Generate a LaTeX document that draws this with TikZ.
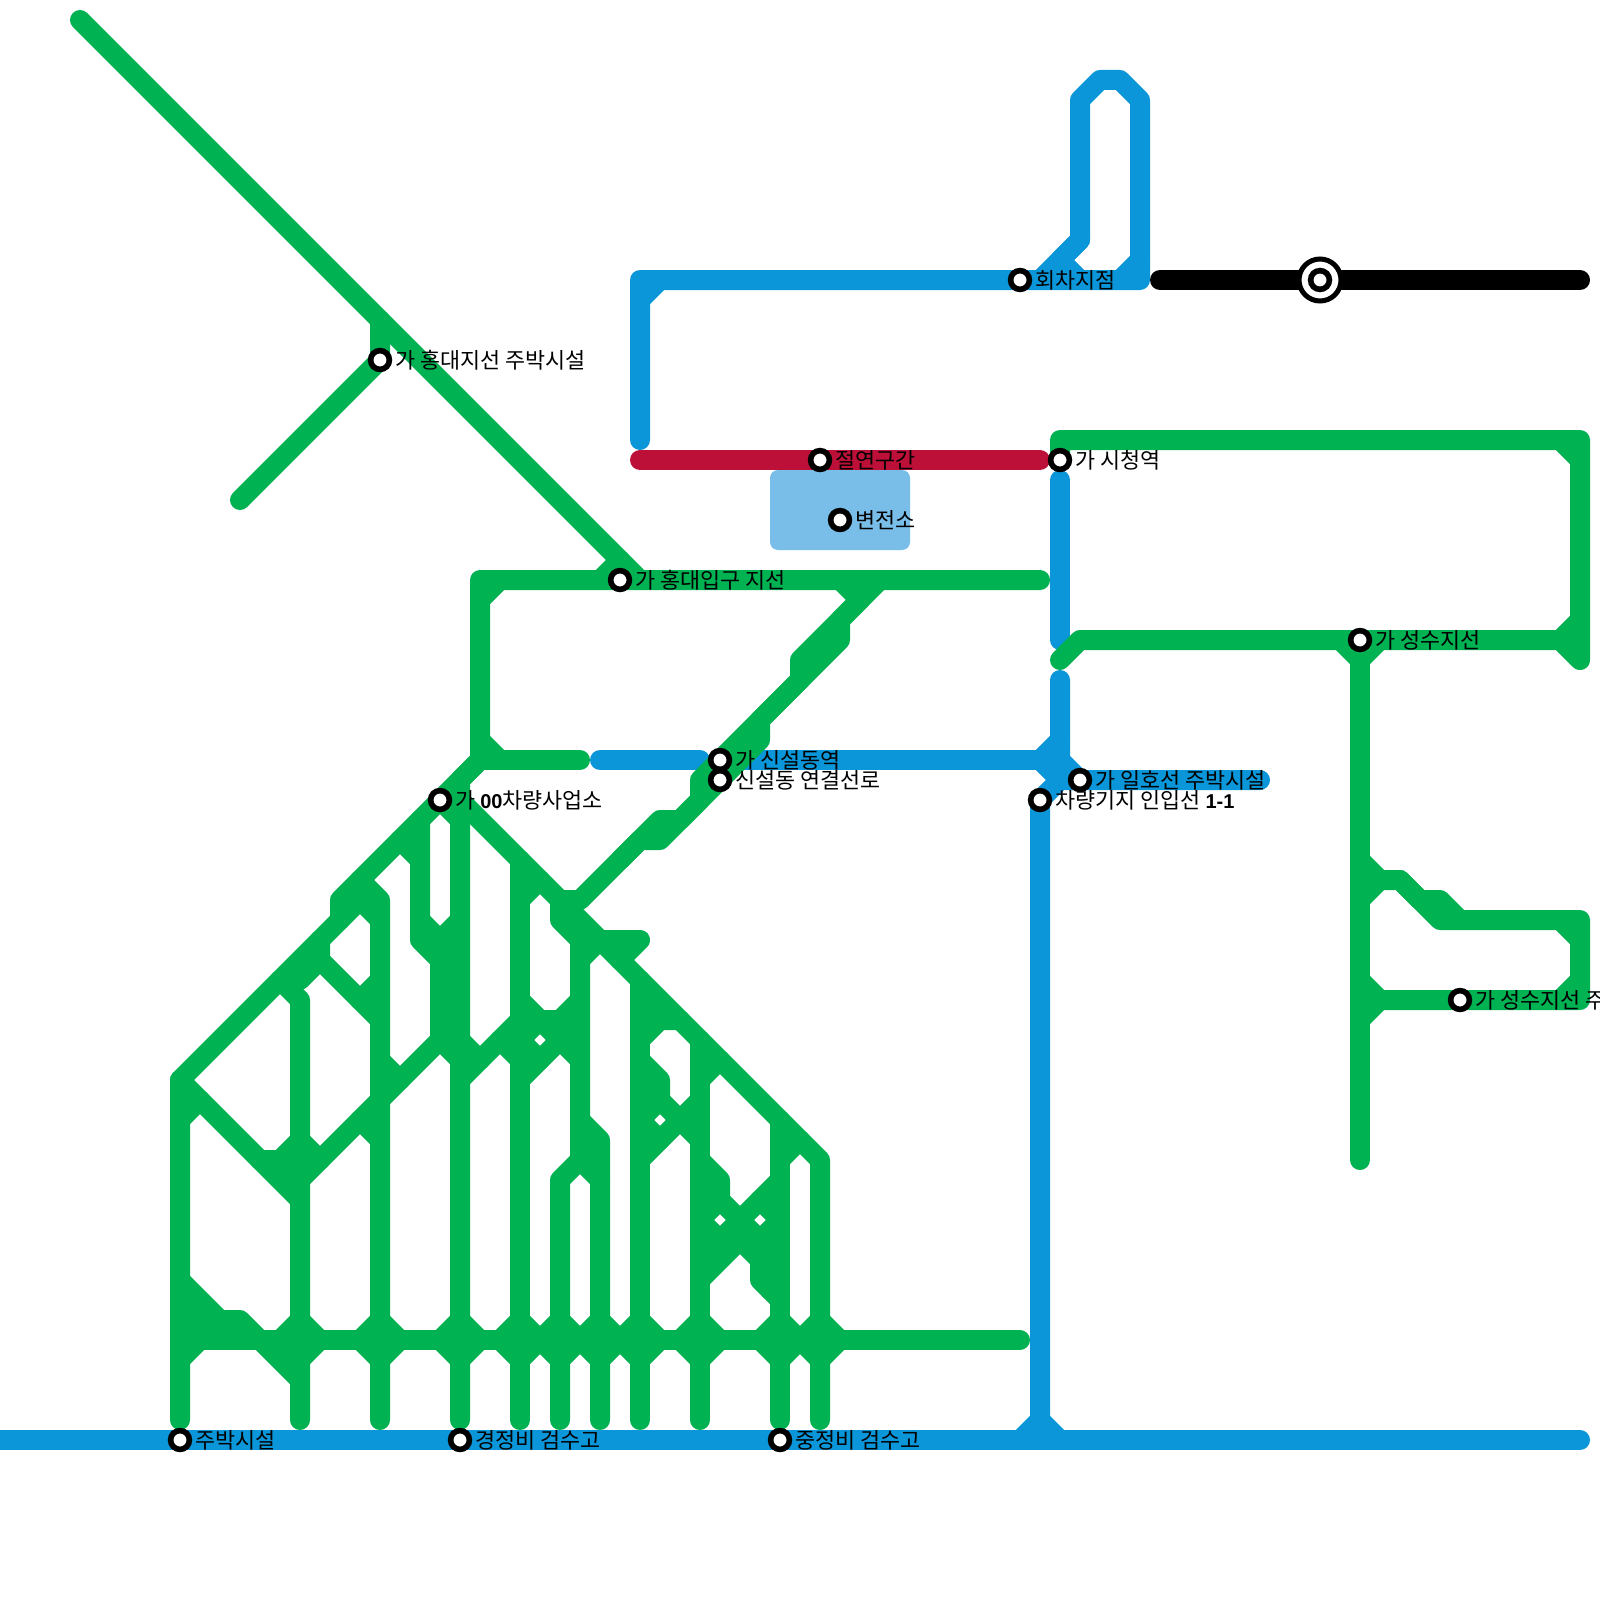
\documentclass[tikz,border=0pt]{standalone}
\usepackage{fontspec}
\setmainfont{Noto Sans CJK KR}
\newfontfamily\latinbold[BoldFont={Liberation Sans Bold}]{Liberation Sans}
\definecolor{grn}{HTML}{00B251}
\definecolor{blu}{HTML}{0A96D8}
\definecolor{rd}{HTML}{BD1038}
\definecolor{lblu}{HTML}{79BDE9}
\newcommand{\bnum}[1]{{\latinbold\bfseries\fontsize{10pt}{12pt}\selectfont #1}}
\tikzset{
  track/.style={line width=10pt,line cap=round,line join=round},
  grnline/.style={track,draw=grn},
  bluline/.style={track,draw=blu},
  stn/.style={circle,draw=black,fill=white,line width=2.8pt,minimum size=9.4pt,inner sep=0pt},
  lbl/.style={anchor=west,inner sep=0pt,font=\fontsize{10.9pt}{12pt}\selectfont,text=black},
}
\begin{document}
\begin{tikzpicture}[x=0.5pt,y=-0.5pt]
\useasboundingbox (0,0) rectangle (1600,1600);
% substation block
\fill[lblu,rounded corners=4pt] (770,470) rectangle (910,550);
% blue
\draw[bluline] (-20,1440) -- (1580,1440);
\draw[bluline] (1020,1440) -- (1040,1420) -- (1060,1440);
\draw[bluline] (1040,1420) -- (1040,800) -- (1060,780) -- (1260,780);
\draw[bluline] (1060,780) -- (1040,760) -- (1060,740) -- (1060,680);
\draw[bluline] (1060,740) -- (1060,760) -- (1080,780);
\draw[bluline] (740,760) -- (1040,760);
\draw[bluline] (600,760) -- (700,760);
\draw[bluline] (1060,480) -- (1060,640);
\draw[bluline] (640,440) -- (640,280) -- (1140,280) -- (1140,100) -- (1120,80) -- (1100,80) -- (1080,100) -- (1080,240) -- (1040,280);
\draw[bluline] (660,280) -- (640,300);
\draw[bluline] (1080,240) -- (1060,260) -- (1080,280);
\draw[bluline] (1120,280) -- (1140,260);
% black, red
\draw[track,draw=black] (1160,280) -- (1580,280);
\draw[track,draw=rd] (640,460) -- (1040,460);
% green top and right
\draw[grnline] (80,20) -- (640,580);
\draw[grnline] (240,500) -- (380,360) -- (380,320);
\draw[grnline] (600,580) -- (620,560);
\draw[grnline] (1040,580) -- (480,580) -- (480,760) -- (460,780) -- (460,1420);
\draw[grnline] (500,580) -- (480,600);
\draw[grnline] (480,740) -- (500,760);
\draw[grnline] (480,760) -- (580,760);
\draw[grnline] (1060,460) -- (1060,440) -- (1580,440) -- (1580,660) -- (1560,640) -- (1080,640) -- (1060,660);
\draw[grnline] (1560,440) -- (1580,460);
\draw[grnline] (1560,640) -- (1580,620);
\draw[grnline] (1340,640) -- (1360,660) -- (1380,640);
\draw[grnline] (1360,660) -- (1360,1160);
\draw[grnline] (1360,860) -- (1380,880) -- (1400,880) -- (1440,920) -- (1580,920) -- (1580,1000) -- (1380,1000) -- (1360,980);
\draw[grnline] (1380,880) -- (1360,900);
\draw[grnline] (1400,880) -- (1420,900) -- (1440,900) -- (1460,920);
\draw[grnline] (1560,920) -- (1580,940);
\draw[grnline] (1580,980) -- (1560,1000);
\draw[grnline] (1380,1000) -- (1360,1020);
% green diagonal to the yard
\draw[grnline] (880,580) -- (860,600) -- (840,580);
\draw[grnline] (860,600) -- (800,660) -- (800,680) -- (700,780) -- (700,800) -- (680,820) -- (660,820) -- (580,900) -- (560,900) -- (560,920) -- (580,940) -- (580,1160) -- (560,1180) -- (560,1420);
\draw[grnline] (860,600) -- (840,620) -- (840,640) -- (760,720) -- (760,740) -- (660,840) -- (640,840) -- (620,860);
% yard outline
\draw[grnline] (480,760) -- (340,900) -- (340,920) -- (180,1080) -- (180,1420);
\draw[grnline] (460,800) -- (820,1160) -- (820,1420);
\draw[grnline] (440,800) -- (460,820);
% left yard
\draw[grnline] (180,1080) -- (300,1200);
\draw[grnline] (180,1120) -- (200,1100);
\draw[grnline] (260,1160) -- (280,1160) -- (300,1140) -- (320,1160);
\draw[grnline] (280,1160) -- (300,1180);
\draw[grnline] (280,980) -- (300,1000) -- (300,1420);
\draw[grnline] (300,980) -- (320,960);
\draw[grnline] (320,940) -- (320,960) -- (380,1020);
\draw[grnline] (340,920) -- (360,900) -- (380,920);
\draw[grnline] (360,1000) -- (380,980);
\draw[grnline] (360,880) -- (380,900) -- (380,1420);
\draw[grnline] (380,1060) -- (400,1080);
\draw[grnline] (360,1120) -- (380,1140);
\draw[grnline] (400,840) -- (420,860);
\draw[grnline] (420,820) -- (420,940) -- (440,960) -- (440,1040) -- (300,1180);
\draw[grnline] (420,920) -- (440,940) -- (460,920);
\draw[grnline] (450,945) -- (450,1040);
\draw[grnline] (440,1040) -- (460,1060);
\draw[grnline] (460,1040) -- (480,1060);
\draw[grnline] (460,1080) -- (520,1020);
\draw[grnline] (500,1040) -- (520,1060);
\draw[grnline] (520,860) -- (520,1420);
\draw[grnline] (520,900) -- (540,880);
% scissors 520-580
\draw[grnline] (520,1000) -- (580,1060);
\draw[grnline] (520,1080) -- (580,1020);
\draw[grnline] (520,1040) -- (540,1060);
\draw[grnline] (520,1040) -- (540,1020) -- (560,1020) -- (580,1000);
\draw[grnline] (580,1160) -- (600,1180);
\draw[grnline] (580,1120) -- (600,1140) -- (600,1420);
\draw[grnline] (590,1134) -- (590,1160);
\draw[grnline] (580,960) -- (600,940) -- (640,940) -- (620,960);
% scissors 640-700
\draw[grnline] (640,980) -- (640,1420);
\draw[grnline] (640,1000) -- (660,1020);
\draw[grnline] (640,1040) -- (660,1020) -- (680,1020);
\draw[grnline] (640,1060) -- (660,1080) -- (660,1100) -- (700,1140);
\draw[grnline] (650,1072) -- (650,1100);
\draw[grnline] (640,1120) -- (660,1100);
\draw[grnline] (640,1120) -- (660,1140);
\draw[grnline] (640,1160) -- (700,1100);
\draw[grnline] (700,1040) -- (700,1420);
\draw[grnline] (700,1080) -- (720,1060);
% scissors 700-780
\draw[grnline] (700,1160) -- (720,1180) -- (720,1200) -- (760,1240);
\draw[grnline] (710,1172) -- (710,1198);
\draw[grnline] (700,1220) -- (720,1200);
\draw[grnline] (700,1220) -- (720,1240);
\draw[grnline] (700,1260) -- (780,1180);
\draw[grnline] (700,1280) -- (740,1240);
\draw[grnline] (760,1240) -- (780,1220);
\draw[grnline] (760,1200) -- (780,1220);
\draw[grnline] (740,1240) -- (760,1260) -- (760,1280) -- (780,1300);
\draw[grnline] (770,1250) -- (770,1290);
\draw[grnline] (780,1120) -- (780,1420);
\draw[grnline] (780,1160) -- (800,1140);
% bottom ladder
\draw[grnline] (180,1340) -- (1020,1340);
\draw[grnline] (180,1280) -- (220,1320);
\draw[grnline] (180,1300) -- (200,1320);
\draw[grnline] (180,1320) -- (240,1320) -- (300,1380);
\draw[grnline] (180,1360) -- (200,1340);
\foreach \vx in {300,380,460,520,560,600,640,700,780,820}{
  \draw[grnline] ({\vx-20},1340) -- (\vx,1320) -- ({\vx+20},1340) -- (\vx,1360) -- cycle;
}
% stations
\node[stn] (s1) at (380,360) {};
\node[stn] (s2) at (620,580) {};
\node[stn] (s3) at (820,460) {};
\node[stn] (s4) at (840,520) {};
\node[stn] (s5) at (1060,460) {};
\node[stn] (s6) at (1020,280) {};
\node[stn] (s7) at (1360,640) {};
\node[stn] (s8) at (1460,1000) {};
\node[stn] (s9) at (720,760) {};
\node[stn] (s10) at (720,780) {};
\node[stn] (s11) at (440,800) {};
\node[stn] (s12) at (1080,780) {};
\node[stn] (s13) at (1040,800) {};
\node[stn] (s14) at (180,1440) {};
\node[stn] (s15) at (460,1440) {};
\node[stn] (s16) at (780,1440) {};
\node[circle,draw=black,fill=white,line width=2.5pt,minimum size=21pt,inner sep=0pt] (hub) at (1320,280) {};
\node[stn] (hubin) at (1320,280) {};
% labels
\node[lbl] (l1) at (395,360.5) {가 홍대지선 주박시설};
\node[lbl] (l2) at (635,580.5) {가 홍대입구 지선};
\node[lbl] (l3) at (835,460.5) {절연구간};
\node[lbl] (l4) at (855,520.5) {변전소};
\node[lbl] (l5) at (1075,460.5) {가 시청역};
\node[lbl] (l6) at (1035,280.5) {회차지점};
\node[lbl] (l7) at (1375,640.5) {가 성수지선};
\node[lbl] (l8) at (1475,1000.5) {가 성수지선 주박시설};
\node[lbl] (l9) at (735,760.5) {가 신설동역};
\node[lbl] (l10) at (735,780.5) {신설동 연결선로};
\node[lbl] (l11) at (455,800) {가 \bnum{00}차량사업소};
\node[lbl] (l12) at (1095,780.5) {가 일호선 주박시설};
\node[lbl] (l13) at (1055,800) {차량기지 인입선 \bnum{1-1}};
\node[lbl] (l14) at (195,1440.5) {주박시설};
\node[lbl] (l15) at (475,1440.5) {경정비 검수고};
\node[lbl] (l16) at (795,1440.5) {중정비 검수고};
\end{tikzpicture}
\end{document}
